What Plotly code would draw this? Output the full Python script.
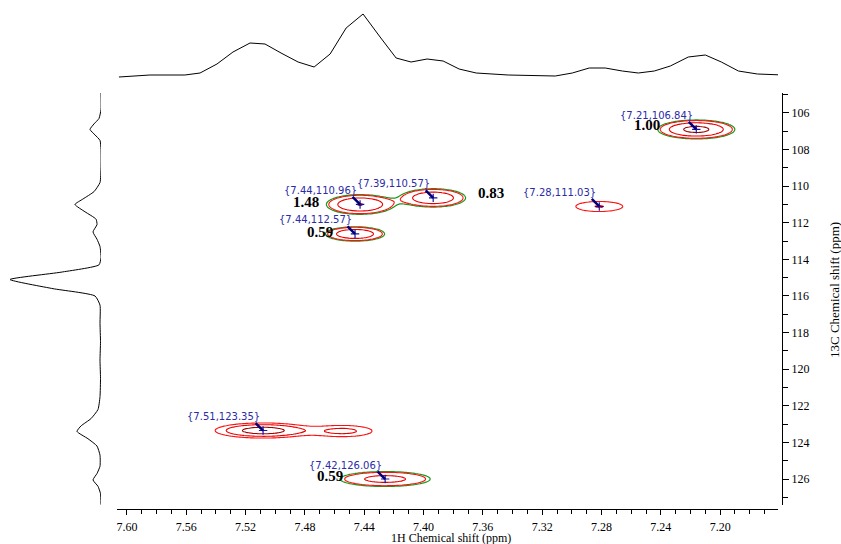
import numpy as np
import plotly.graph_objects as go

# ---------------- data ----------------
# 2D cross peaks (red spectrum): centre shifts, widths, heights
peak_1h = [7.2161, 7.4428, 7.3935, 7.4462, 7.5082, 7.4543, 7.4259, 7.2815]
peak_13c = [106.90, 111.00, 110.64, 112.61, 123.35, 123.38, 126.00, 111.11]
peak_w1h = [0.0137, 0.0126, 0.0126, 0.0115, 0.0175, 0.0148, 0.0200, 0.0132]
peak_w13c = [0.273, 0.300, 0.290, 0.227, 0.224, 0.230, 0.268, 0.230]
peak_amp = [4.84, 4.05, 3.60, 3.60, 5.50, 2.40, 2.54, 2.05]
in_green = [1, 1, 1, 1, 0, 0, 1, 0]          # peaks also present in the green spectrum

# picked peaks (labels)
picked_peak = [0, 1, 2, 3, 4, 6, 7]
picked_1h = [7.21, 7.44, 7.39, 7.44, 7.51, 7.42, 7.28]
picked_13c = [106.84, 110.96, 110.57, 112.57, 123.35, 126.06, 111.03]

# integrals
integral_peak = [0, 1, 2, 3, 6]
integral_value = [1.00, 1.48, 0.83, 0.59, 0.59]

# 1H projection (top)
top_1h = [7.6054, 7.5845, 7.5609, 7.5507, 7.5393, 7.5285, 7.5170, 7.5069, 7.4961,
          7.4846, 7.4738, 7.4630, 7.4522, 7.4408, 7.4293, 7.4185, 7.4084, 7.3976,
          7.3868, 7.3760, 7.3645, 7.3429, 7.3112, 7.2997, 7.2883, 7.2775, 7.2660,
          7.2552, 7.2444, 7.2336, 7.2215, 7.2100, 7.1992, 7.1877, 7.1749, 7.1574]
top_int = [1, 3, 3, 5, 14, 26, 35, 34, 25, 16, 11, 24, 50, 64, 41, 20, 16, 19,
           17, 9, 5, 3, 2, 5, 10, 10, 7, 5, 7, 12, 21, 23, 16, 7, 4, 3]

# 13C projection (left)
left_13c = [104.9, 105.8, 106.3, 106.6, 106.9, 107.2, 107.5, 108.0, 109.0, 109.8,
            110.3, 110.7, 111.0, 111.4, 111.8, 112.1, 112.5, 112.9, 113.3, 113.9,
            114.3, 114.7, 115.1, 115.6, 116.0, 116.5, 117.5, 118.5, 119.5, 120.5,
            121.5, 122.2, 122.7, 123.1, 123.4, 123.8, 124.2, 124.7, 125.3, 125.7,
            126.05, 126.4, 126.8, 127.4]
left_int = [0, 0, 2, 7, 11, 6, 1, 0, 0, 1, 7, 18, 26, 16, 5, 4, 8, 4, 1, 0,
            2, 40, 91, 48, 6, 1, 1, 0.5, 1, 0.5, 1, 3, 10, 20, 24, 13, 4, 1, 1, 4,
            8, 3, 0.5, 0]

# ---------------- styles / layout ----------------
W, Hh = 841, 544
X_RANGE = [7.6067, 7.161]
Y_RANGE = [127.42, 104.91]
x_dom = [117 / W, 778 / W]
y_dom = [39 / Hh, 451 / Hh]
label_shift = (-40, 14)
integral_offsets = [(-49, 4), (-54, 2), (58, 5), (-35, 2), (-55, 3)]
SERIF = "Liberation Serif"

# grid for contour field
gh = np.arange(7.155, 7.612, 0.0015)
gc = np.arange(104.8, 127.55, 0.05)
GH, GC = np.meshgrid(gh, gc)


def field(mask):
    z = np.zeros_like(GH)
    for i in range(len(peak_1h)):
        if not mask[i]:
            continue
        z += peak_amp[i] * np.exp(-((GH - peak_1h[i]) ** 2) / (2 * peak_w1h[i] ** 2)
                                  - ((GC - peak_13c[i]) ** 2) / (2 * peak_w13c[i] ** 2))
    return np.round(np.log2(np.maximum(z, 1 / 32)), 2)


z_red = field([1] * len(peak_1h))
z_green = field(in_green)

fig = go.Figure()

green_level = float(np.log2(0.8))
fig.add_trace(go.Contour(
    x=gh, y=gc, z=z_green, xaxis="x", yaxis="y",
    contours=dict(coloring="lines", start=green_level, end=green_level, size=1),
    colorscale=[[0, "#1a9a1a"], [1, "#1a9a1a"]], showscale=False,
    line=dict(width=1.2), hoverinfo="skip", autocontour=False))

fig.add_trace(go.Contour(
    x=gh, y=gc, z=z_red, xaxis="x", yaxis="y",
    contours=dict(coloring="lines", start=0, end=2, size=1),
    colorscale=[[0, "#ff1010"], [0.5, "#e80000"], [1, "#a00000"]],
    zmin=0, zmax=2, zauto=False, showscale=False,
    line=dict(width=1.1), hoverinfo="skip", autocontour=False))

# crosshairs on picked peaks
fig.add_trace(go.Scatter(
    x=[peak_1h[i] for i in picked_peak], y=[peak_13c[i] for i in picked_peak],
    xaxis="x", yaxis="y", mode="markers",
    marker=dict(symbol="cross-thin", size=6, line=dict(width=1.2, color="#1414a0")),
    hoverinfo="skip"))

# projections
fig.add_trace(go.Scatter(x=top_1h, y=top_int, xaxis="x2", yaxis="y2", mode="lines",
                         line=dict(color="black", width=1), hoverinfo="skip"))
fig.add_trace(go.Scatter(x=left_int, y=left_13c, xaxis="x3", yaxis="y3", mode="lines",
                         line=dict(color="black", width=1, shape="spline", smoothing=0.5),
                         hoverinfo="skip"))

annotations = []
for k, i in enumerate(picked_peak):
    annotations.append(dict(
        x=peak_1h[i], y=peak_13c[i], xref="x", yref="y",
        text="{%.2f,%.2f}" % (picked_1h[k], picked_13c[k]), showarrow=False,
        xshift=label_shift[0], yshift=label_shift[1],
        font=dict(family="DejaVu Sans", size=10, color="#2b2ba8")))
    annotations.append(dict(
        x=peak_1h[i], y=peak_13c[i], xref="x", yref="y", text="",
        showarrow=True, ax=-9, ay=-9, arrowhead=0, arrowwidth=2.5,
        arrowcolor="#00007a", standoff=0))
for k, i in enumerate(integral_peak):
    annotations.append(dict(
        x=peak_1h[i], y=peak_13c[i], xref="x", yref="y",
        text="<b>%.2f</b>" % integral_value[k], showarrow=False,
        xshift=integral_offsets[k][0], yshift=integral_offsets[k][1],
        font=dict(family=SERIF, size=15, color="black")))

annotations.append(dict(text="1H Chemical shift (ppm)", xref="paper", yref="paper",
                        x=451 / W, y=1 - 538 / Hh, xanchor="center", yanchor="middle",
                        showarrow=False,
                        font=dict(family=SERIF, size=12, color="black")))
annotations.append(dict(text="13C Chemical shift (ppm)", xref="paper", yref="paper",
                        x=834 / W, y=1 - 290 / Hh, xanchor="center", yanchor="middle",
                        showarrow=False, textangle=-90,
                        font=dict(family=SERIF, size=13, color="black")))

tickfont = dict(family=SERIF, size=12, color="black")
fig.update_layout(
    width=W, height=Hh, margin=dict(l=0, r=0, t=0, b=0),
    paper_bgcolor="white", plot_bgcolor="white", showlegend=False,
    annotations=annotations,
    xaxis=dict(domain=x_dom, range=X_RANGE, anchor="free", position=35 / Hh,
               showline=True, linecolor="black", linewidth=1,
               ticks="outside", ticklen=5, tickcolor="black", tickwidth=1,
               tick0=7.2, dtick=0.04, tickformat=".2f", tickfont=tickfont,
               ticklabelstandoff=2,
               minor=dict(dtick=0.01, tick0=7.2, ticks="outside", ticklen=4,
                          tickcolor="black", showgrid=False),
               showgrid=False, zeroline=False, automargin=False),
    yaxis=dict(domain=y_dom, range=Y_RANGE, anchor="free", position=782 / W,
               side="right", showline=True, linecolor="black", linewidth=1,
               ticks="outside", ticklen=6, tickcolor="black", tickwidth=1,
               tick0=0, dtick=2, tickfont=tickfont,
               minor=dict(dtick=1, tick0=0, ticks="outside", ticklen=5,
                          tickcolor="black", showgrid=False),
               showgrid=False, zeroline=False, automargin=False),
    xaxis2=dict(domain=x_dom, range=X_RANGE, anchor="y2", visible=False),
    yaxis2=dict(domain=[1 - 78 / Hh, 1 - 10 / Hh], range=[0, 68], anchor="x2",
                visible=False),
    xaxis3=dict(domain=[0, 101 / W], range=[101, 0], anchor="y3", visible=False),
    yaxis3=dict(domain=y_dom, range=Y_RANGE, anchor="x3", visible=False),
)

fig.write_html("out.html")
